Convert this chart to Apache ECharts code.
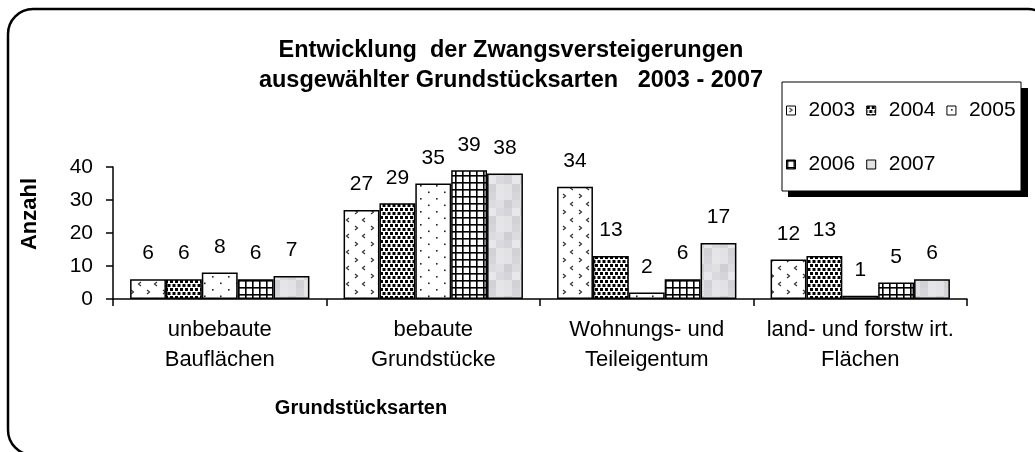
<!DOCTYPE html>
<html>
<head>
<meta charset="utf-8">
<script src="https://cdn.jsdelivr.net/npm/echarts@6/dist/echarts.min.js"></script>
<style>
html,body{margin:0;padding:0;background:#fff;}
#chart{width:1035px;height:452px;}
</style>
</head>
<body>
<div id="chart"></div>
<script>
const categories = ['unbebaute\nBauflächen', 'bebaute\nGrundstücke', 'Wohnungs- und\nTeileigentum', 'land- und forstw irt.\nFlächen'];
const years = ['2003', '2004', '2005', '2006', '2007'];
const v2003 = [6, 27, 34, 12];
const v2004 = [6, 29, 13, 13];
const v2005 = [8, 35, 2, 1];
const v2006 = [6, 39, 6, 5];
const v2007 = [7, 38, 17, 6];
const yTicks = [0, 10, 20, 30, 40];
const titleText = 'Entwicklung  der Zwangsversteigerungen\nausgewählter Grundstücksarten   2003 - 2007';
const yName = 'Anzahl';
const xName = 'Grundstücksarten';

const FONT = '"Liberation Sans", Arial, Helvetica, sans-serif';

function pat(w, h, draw) {
  const c = document.createElement('canvas');
  c.width = w; c.height = h;
  const g = c.getContext('2d');
  g.fillStyle = '#fff';
  g.fillRect(0, 0, w, h);
  draw(g);
  return { image: c, repeat: 'repeat' };
}
const patterns = [
  pat(16, 16, g => {
    g.strokeStyle = '#333'; g.lineWidth = 1.2;
    g.beginPath(); g.moveTo(3, 2); g.lineTo(5.5, 4); g.lineTo(3, 6); g.stroke();
    g.beginPath(); g.moveTo(13, 10); g.lineTo(10.5, 12); g.lineTo(13, 14); g.stroke();
  }),
  pat(10, 8, g => {
    g.fillStyle = '#000';
    g.fillRect(0, 0, 3, 3); g.fillRect(5, 0, 3, 3);
    g.fillRect(2.5, 4, 3, 3); g.fillRect(7.5, 4, 3, 3); g.fillRect(-2.5, 4, 3, 3);
  }),
  pat(16, 13, g => {
    g.fillStyle = '#222';
    g.fillRect(4, 3, 1.6, 1.6); g.fillRect(12, 9.5, 1.6, 1.6);
  }),
  pat(7, 7, g => {
    g.fillStyle = '#000';
    g.fillRect(0, 0, 7, 1.6); g.fillRect(0, 0, 1.6, 7);
  }),
  pat(24, 32, g => {
    const cols = ['#e3e3e6','#d6d6da','#e6e6e9','#cfcfd3','#dcdce0','#e0e0e3','#d5d5d9','#e8e8eb','#dadade','#e2e2e5','#d2d2d6','#e5e5e8'];
    let k = 0;
    for (let y = 0; y < 32; y += 8) for (let x = 0; x < 24; x += 8) { g.fillStyle = cols[k++ % cols.length]; g.fillRect(x, y, 8, 8); }
  })
];
const seriesValues = [v2003, v2004, v2005, v2006, v2007];

const chart = echarts.init(document.getElementById('chart'), null, { renderer: 'canvas' });

const series = years.map((y, i) => ({
  name: y,
  type: 'bar',
  data: seriesValues[i],
  barGap: '0%',
  barCategoryGap: '16%',
  itemStyle: { color: patterns[i], borderColor: '#000', borderWidth: 1.5 },
  label: {
    show: true, position: 'top', distance: 15,
    color: '#000', fontSize: 21, fontFamily: FONT
  }
}));

const legendText = { color: '#000', fontSize: 21, fontFamily: FONT, padding: [0, 0, 0, 8] };
const legendItem = { borderColor: '#000', borderWidth: 1 };

chart.setOption({
  animation: false,
  backgroundColor: '#fff',
  title: {
    text: titleText,
    left: 506, top: 31, textAlign: 'center',
    textStyle: { fontSize: 23.5, fontWeight: 'bold', color: '#000', fontFamily: FONT, lineHeight: 30 }
  },
  grid: { left: 113, right: 68, top: 167, bottom: 153 },
  legend: [
    { data: years.slice(0, 3), left: 781, top: 95, itemWidth: 9, itemHeight: 9, itemGap: 11,
      icon: 'rect', textStyle: legendText, itemStyle: legendItem, z: 10 },
    { data: years.slice(3), left: 781, top: 149, itemWidth: 9, itemHeight: 9, itemGap: 11,
      icon: 'rect', textStyle: legendText, itemStyle: legendItem, z: 10 }
  ],
  xAxis: {
    type: 'category', data: categories,
    axisLine: { lineStyle: { color: '#000', width: 1.5 } },
    axisTick: { show: true, length: 7, lineStyle: { color: '#000', width: 1.5 } },
    axisLabel: { color: '#000', fontSize: 22, fontFamily: FONT, lineHeight: 30, margin: 16, interval: 0 }
  },
  yAxis: {
    type: 'value', min: 0, max: 40, interval: 10,
    splitLine: { show: false },
    axisLine: { show: true, lineStyle: { color: '#000', width: 1.5 } },
    axisTick: { show: true, length: 7, lineStyle: { color: '#000', width: 1.5 } },
    axisLabel: { color: '#000', fontSize: 21, fontFamily: FONT, margin: 20,
      formatter: v => yTicks.includes(v) ? String(v) : '' }
  },
  graphic: [
    { type: 'rect', shape: { x: 8, y: 9, width: 1045, height: 446, r: 25 },
      style: { fill: 'none', stroke: '#000', lineWidth: 2.5 }, z: 0, silent: true },
    { type: 'rect', shape: { x: 788, y: 88, width: 240, height: 109 },
      style: { fill: '#000' }, z: 1, silent: true },
    { type: 'rect', shape: { x: 782, y: 82, width: 239, height: 109 },
      style: { fill: '#fff', stroke: '#000', lineWidth: 1 }, z: 2, silent: true },
    { type: 'text', x: 30, y: 214, rotation: Math.PI / 2,
      style: { text: yName, font: 'bold 22px ' + FONT, fill: '#000', textAlign: 'center', textVerticalAlign: 'middle' }, z: 3 },
    { type: 'text', x: 361, y: 408,
      style: { text: xName, font: 'bold 20px ' + FONT, fill: '#000', textAlign: 'center', textVerticalAlign: 'middle' }, z: 3 }
  ],
  series: series
});
</script>
</body>
</html>
